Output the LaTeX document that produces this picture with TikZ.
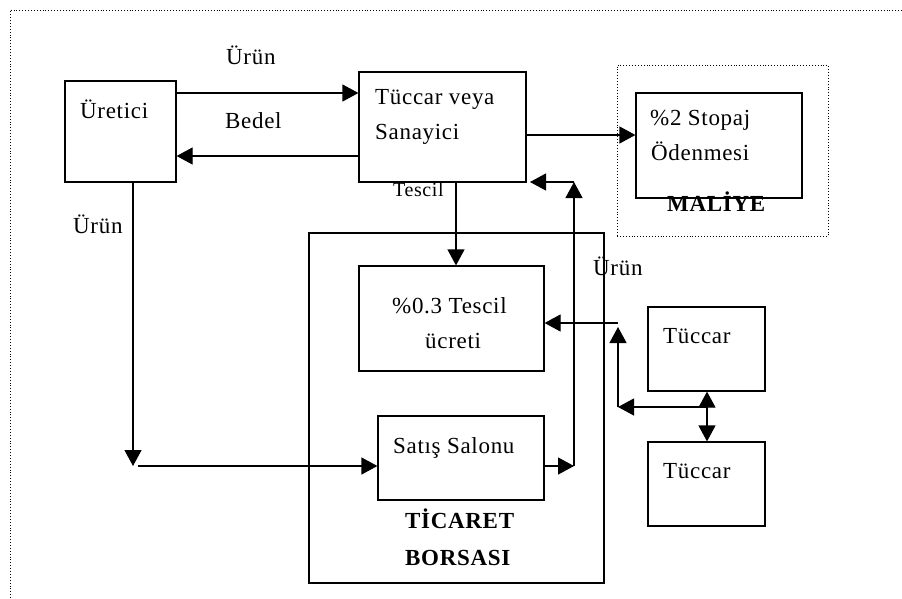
\documentclass[tikz,border=0pt]{standalone}
\usepackage{fontspec}
\setmainfont{Liberation Serif}[LetterSpace=3]
\usetikzlibrary{arrows.meta}
\tikzset{
  box/.style={draw, line width=1.2pt, inner sep=0pt},
  dotbox/.style={draw, dotted, line width=0.9pt, inner sep=0pt},
  txt/.style={anchor=base west, inner sep=0pt, font=\fontsize{23}{28}\selectfont},
  smalltxt/.style={anchor=base west, inner sep=0pt, font=\fontsize{20}{24}\selectfont},
  boldtxt/.style={anchor=base west, inner sep=0pt, font=\fontsize{23}{28}\selectfont\bfseries},
  arr/.style={line width=1.2pt, -{Triangle[length=16pt,width=17pt]}},
  dbl/.style={line width=1.2pt, {Triangle[length=16pt,width=17pt]}-{Triangle[length=16pt,width=17pt]}}
}
\begin{document}
\begin{tikzpicture}[x=1pt,y=-1pt]
\useasboundingbox (0,0) rectangle (902,598);
\fill[white] (0,0) rectangle (902,598);
% outer dotted frame (top and left visible)
\draw[dotted, line width=0.9pt] (10,598) -- (10,10) -- (902,10);

% boxes
\node[box, minimum width=111pt, minimum height=101pt] (uret) at (120.5,131.5) {};
\node[box, minimum width=167pt, minimum height=110pt] (tuc) at (442.5,127) {};
\node[dotbox, minimum width=211pt, minimum height=171pt] (maliye) at (722.5,150.5) {};
\node[box, minimum width=166pt, minimum height=105pt] (stopaj) at (719,145.5) {};
\node[box, minimum width=295pt, minimum height=350pt] (borsa) at (456.5,408) {};
\node[box, minimum width=185pt, minimum height=105pt] (tescil) at (451.5,318.5) {};
\node[box, minimum width=166pt, minimum height=84pt] (satis) at (461,458) {};
\node[box, minimum width=117pt, minimum height=84pt] (t1) at (706.5,349) {};
\node[box, minimum width=117pt, minimum height=84pt] (t2) at (706.5,484) {};

% texts
\node[txt] (lurun1) at (226,64) {Ürün};
\node[txt] (lbedel) at (225,128) {Bedel};
\node[txt] (luret) at (80,118) {Üretici};
\node[txt] (ltuc1) at (375,104) {Tüccar veya};
\node[txt] (ltuc2) at (375,139) {Sanayici};
\node[smalltxt] (ltescil) at (393,196) {Tescil};
\node[txt] (lurun2) at (73,233) {Ürün};
\node[txt] (lstop1) at (650,125) {\%2 Stopaj};
\node[txt] (lstop2) at (651,160) {Ödenmesi};
\node[boldtxt] (lmaliye) at (667,211) {MALİYE};
\node[txt] (lurun3) at (593,275) {Ürün};
\node[txt] (ltes1) at (392,313) {\%0.3 Tescil};
\node[txt] (ltes2) at (425,348) {ücreti};
\node[txt] (lsatis) at (393,453) {Satış Salonu};
\node[boldtxt] (lbor1) at (405,528) {TİCARET};
\node[boldtxt] (lbor2) at (405,565) {BORSASI};
\node[txt] (lt1) at (663,343) {Tüccar};
\node[txt] (lt2) at (663,478) {Tüccar};

% helper coordinates
\coordinate (h93) at (0,93);
\coordinate (h156) at (0,156);
\coordinate (h135) at (0,135);
\coordinate (v456) at (456,0);
\coordinate (p1) at (133,466);
\coordinate (p2) at (138,466);
\coordinate (q1) at (574,466);
\coordinate (q2) at (574,182);
\coordinate (q3) at (530,182);
\coordinate (r1) at (707,407);
\coordinate (r2) at (618,407);
\coordinate (r3) at (618,327);
\coordinate (r4) at (618,323);

% connectors
\draw[arr] (uret.east |- h93) -- (tuc.west |- h93);
\draw[arr] (tuc.west |- h156) -- (uret.east |- h156);
\draw[arr] (tuc.east |- h135) -- (stopaj.west |- h135);
\draw[arr] (tuc.south -| v456) -- (tescil.north -| v456);
\draw[arr] (uret.south -| p1) -- (p1);
\draw[arr] (p2) -- (satis.west |- p2);
\draw[arr] (satis.east |- q1) -- (q1);
\draw[arr] (q1) -- (q2);
\draw[arr] (q2) -- (q3);
\draw[dbl] (t1.south -| r1) -- (t2.north -| r1);
\draw[arr] (r1) -- (r2);
\draw[arr] (r2) -- (r3);
\draw[arr] (r4) -- (tescil.east |- r4);
\end{tikzpicture}
\end{document}
